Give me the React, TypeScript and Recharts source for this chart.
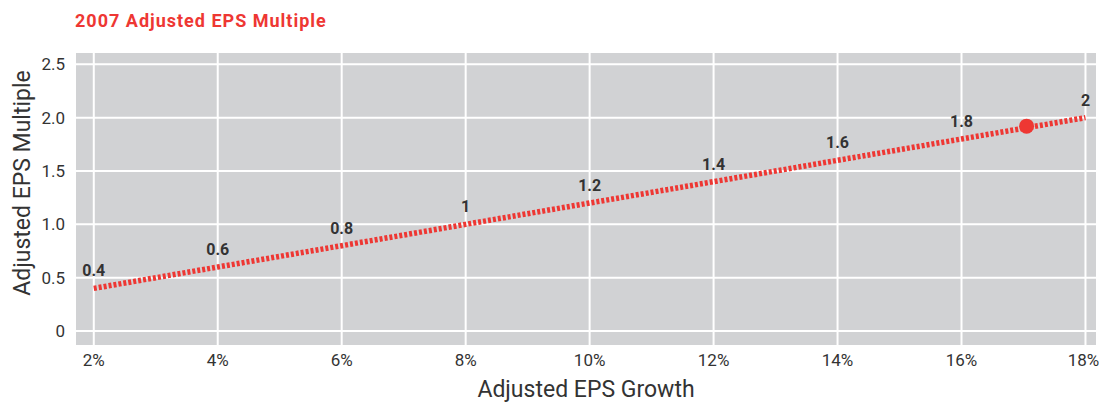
import { ComposedChart, Line, Scatter, XAxis, YAxis, CartesianGrid, LabelList } from "recharts";

const growth = [2, 4, 6, 8, 10, 12, 14, 16, 18];
const multiple = [0.4, 0.6, 0.8, 1, 1.2, 1.4, 1.6, 1.8, 2];
const yTicks = [0, 0.5, 1, 1.5, 2, 2.5];
const current = [{ x: 17.05, y: 1.92 }];

const lineData = growth.map((g, i) => ({ x: g, y: multiple[i] }));

const RED = "#ee3733";
const INK = "#333333";
const FONT = "Roboto, 'Noto Sans', sans-serif";

// y axis title sits a bit above the plot centre in the original
const YTitle = (props: any) => {
  const vb = props.viewBox || {};
  const cx = 22;
  const cy = vb.y + vb.height / 2 - 16;
  return (
    <text
      x={cx}
      y={cy}
      transform={`rotate(-90 ${cx} ${cy})`}
      textAnchor="middle"
      dominantBaseline="central"
      fill={INK}
      fontSize={23}
      fontFamily={FONT}
    >
      Adjusted EPS Multiple
    </text>
  );
};

export default function App() {
  return (
    <div style={{ position: "absolute", left: 0, top: 0, width: 1099, height: 405, background: "#fff", fontFamily: FONT }}>
      <div style={{ position: "absolute", left: 75, top: 10, color: RED, fontWeight: 700, fontSize: 18, letterSpacing: 1, lineHeight: "21px" }}>
        2007 Adjusted EPS Multiple
      </div>
      <ComposedChart
        width={1099}
        height={405}
        data={lineData}
        margin={{ top: 52, right: 2, bottom: 0, left: 0 }}
      >
        <CartesianGrid fill="#d1d2d4" stroke="#ffffff" strokeWidth={2} />
        <XAxis
          type="number"
          dataKey="x"
          domain={[1.697, 18.186]}
          ticks={growth}
          tickFormatter={(v) => `${v}%`}
          axisLine={false}
          tickLine={false}
          tick={{ fill: INK, fontSize: 17, fontFamily: FONT }}
          tickMargin={2}
          height={59}
          label={{ value: "Adjusted EPS Growth", position: "insideBottom", offset: 8, fill: INK, fontSize: 23, fontFamily: FONT }}
        />
        <YAxis
          type="number"
          dataKey="y"
          domain={[-0.14, 2.615]}
          ticks={yTicks}
          tickFormatter={(v) => (v === 0 ? "0" : v.toFixed(1))}
          axisLine={false}
          tickLine={false}
          tick={{ fill: INK, fontSize: 17, fontFamily: FONT }}
          tickMargin={4}
          width={75}
          label={<YTitle />}
        />
        <Line
          dataKey="y"
          stroke={RED}
          strokeWidth={5.5}
          strokeDasharray="3 2"
          dot={false}
          activeDot={false}
          isAnimationActive={false}
        >
          <LabelList dataKey="y" position="top" offset={12} fill={INK} fontSize={16} fontWeight={700} fontFamily={FONT} />
        </Line>
        <Scatter data={current} dataKey="y" fill={RED} isAnimationActive={false} shape={(p: any) => <circle cx={p.cx} cy={p.cy} r={7.5} fill={RED} />} />
      </ComposedChart>
    </div>
  );
}
